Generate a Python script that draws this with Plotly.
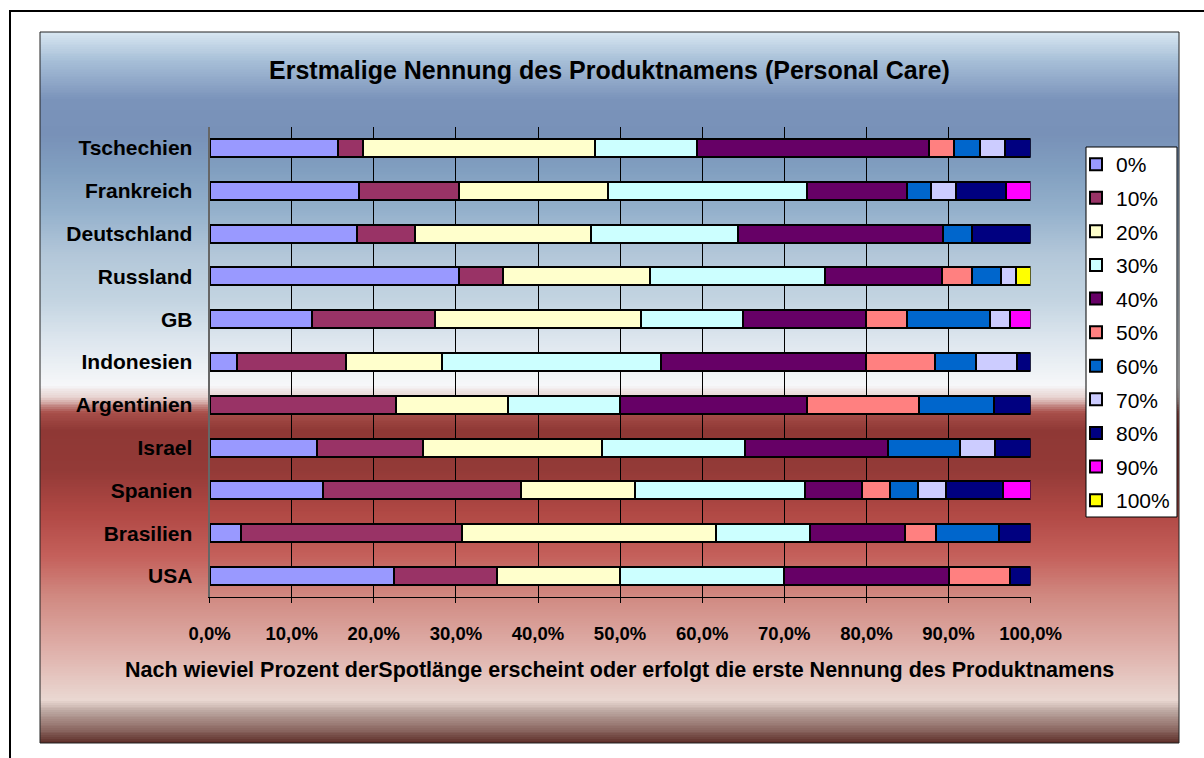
import numpy as np
import plotly.graph_objects as go

# rows, bottom to top as drawn
countries = ["USA", "Brasilien", "Spanien", "Israel", "Argentinien", "Indonesien",
             "GB", "Russland", "Deutschland", "Frankreich", "Tschechien"]

series_names = ["0%", "10%", "20%", "30%", "40%", "50%", "60%", "70%", "80%", "90%", "100%"]

# share of spots (%) per country, same order as countries
s0 = [22.5, 3.8, 13.8, 13.0, 0, 3.3, 12.5, 30.4, 17.9, 18.2, 15.6]
s10 = [12.5, 26.9, 24.1, 13.0, 22.7, 13.3, 15.0, 5.4, 7.1, 12.1, 3.1]
s20 = [15.0, 30.8, 13.8, 21.7, 13.6, 11.7, 25.0, 17.9, 21.4, 18.2, 28.1]
s30 = [20.0, 11.5, 20.7, 17.4, 13.6, 26.7, 12.5, 21.4, 17.9, 24.2, 12.5]
s40 = [20.0, 11.5, 6.9, 17.4, 22.7, 25.0, 15.0, 14.3, 25.0, 12.1, 28.1]
s50 = [7.5, 3.8, 3.4, 0, 13.6, 8.3, 5.0, 3.6, 0, 0, 3.1]
s60 = [0, 7.7, 3.4, 8.7, 9.1, 5.0, 10.0, 3.6, 3.6, 3.0, 3.1]
s70 = [0, 0, 3.4, 4.3, 0, 5.0, 2.5, 1.8, 0, 3.0, 3.1]
s80 = [2.5, 3.8, 6.9, 4.3, 4.5, 1.7, 0, 0, 7.1, 6.1, 3.1]
s90 = [0, 0, 3.4, 0, 0, 0, 2.5, 0, 0, 3.0, 0]
s100 = [0, 0, 0, 0, 0, 0, 0, 1.8, 0, 0, 0]

tick_vals = [0, 10, 20, 30, 40, 50, 60, 70, 80, 90, 100]
tick_text = ["0,0%", "10,0%", "20,0%", "30,0%", "40,0%", "50,0%",
             "60,0%", "70,0%", "80,0%", "90,0%", "100,0%"]

colors = ["#9999FF", "#993366", "#FFFFCC", "#CCFFFF", "#660066", "#FF8080",
          "#0066CC", "#CCCCFF", "#000080", "#FF00FF", "#FFFF00"]

W, H = 1204, 758
FONT = "Arial, Liberation Sans, sans-serif"

# background gradient of the chart panel (pixel row -> colour)
grad = [(32, "#d9e7f2"), (60, "#a8c0d8"), (100, "#7a93ba"), (135, "#7891b8"),
        (170, "#819fc0"), (212, "#95b1cc"), (255, "#b3c7d9"), (300, "#c3d4e1"),
        (340, "#dde6ee"), (385, "#f6f7f9"), (398, "#e6d0cd"), (412, "#a9504b"),
        (430, "#8f3835"), (470, "#933a37"), (512, "#b04844"), (555, "#c45f5a"),
        (595, "#d08880"), (650, "#dfb0aa"), (700, "#ead8d2"), (712, "#b9a39d"),
        (730, "#8a6660"), (743, "#5a2a24")]
top, bot = 32, 743
cscale = [[(p - top) / (bot - top), c] for p, c in grad]
rows = np.linspace(top, bot, 400)

fig = go.Figure()

fig.add_trace(go.Heatmap(
    x=[0.5], y=rows, z=[[r] for r in rows], colorscale=cscale,
    zmin=top, zmax=bot, showscale=False, hoverinfo="skip",
    xaxis="x", yaxis="y"))

series = [s0, s10, s20, s30, s40, s50, s60, s70, s80, s90, s100]
for name, vals, col in zip(series_names, series, colors):
    fig.add_trace(go.Bar(
        y=countries, x=[v if v else None for v in vals], name=name,
        orientation="h", xaxis="x2", yaxis="y2",
        marker=dict(color=col, line=dict(color="black", width=2)),
        legendgroup=name))

px0, px1 = 209.6, 1030.6
py0, py1 = 126.6, 597.4

fig.update_layout(
    width=W, height=H,
    autosize=False,
    margin=dict(l=0, r=0, t=0, b=0, pad=0, autoexpand=False),
    paper_bgcolor="white",
    plot_bgcolor="rgba(0,0,0,0)",
    barmode="stack",
    barnorm="percent",
    bargap=0.58,
    font=dict(family=FONT, color="black"),
    showlegend=True,
    xaxis=dict(domain=[40 / W, 1179 / W], range=[0, 1], visible=False,
               fixedrange=True, automargin=False),
    yaxis=dict(domain=[1 - bot / H, 1 - top / H], range=[bot, top], visible=False,
               fixedrange=True, automargin=False),
    xaxis2=dict(domain=[px0 / W, px1 / W], anchor="y2", range=[0, 100],
                tickvals=tick_vals, ticktext=["<b>" + t + "</b>" for t in tick_text],
                tickfont=dict(size=18.5, family=FONT), ticklabelstandoff=14,
                showgrid=True, gridcolor="black", gridwidth=1,
                showline=True, linecolor="black", linewidth=1,
                ticks="outside", ticklen=5, tickcolor="black", zeroline=False,
                automargin=False),
    yaxis2=dict(domain=[1 - py1 / H, 1 - py0 / H], anchor="x2",
                categoryorder="array", categoryarray=countries,
                tickvals=countries, ticktext=["<b>" + c + "</b>" for c in countries],
                tickfont=dict(size=21, family=FONT), ticklabelstandoff=11,
                showline=True, linecolor="#666666", linewidth=2, showgrid=False,
                automargin=False),
    legend=dict(x=1076 / W, y=1 - 144 / H, xanchor="left", yanchor="top",
                bgcolor="rgba(0,0,0,0)", borderwidth=0,
                font=dict(size=21, family=FONT), traceorder="grouped",
                tracegroupgap=3.3, itemwidth=30),
    shapes=[
        dict(type="rect", xref="paper", yref="paper", x0=10 / W, x1=1.2,
             y0=-0.2, y1=1 - 11 / H, line=dict(color="black", width=2)),
        dict(type="rect", xref="paper", yref="paper", x0=40 / W, x1=1179 / W,
             y0=1 - bot / H, y1=1 - top / H, line=dict(color="#222222", width=1)),
        dict(type="rect", xref="paper", yref="paper", x0=1086 / W, x1=1177 / W,
             y0=1 - 517 / H, y1=1 - 147 / H, fillcolor="white",
             line=dict(color="black", width=1)),
    ],
    annotations=[
        dict(text="<b>Erstmalige Nennung des Produktnamens (Personal Care)</b>",
             x=609.5 / W, y=1 - 70 / H, xref="paper", yref="paper",
             xanchor="center", yanchor="middle",
             showarrow=False, font=dict(size=25, family=FONT)),
        dict(text="<b>Nach wieviel Prozent derSpotlänge erscheint oder erfolgt die erste Nennung des Produktnamens</b>",
             x=619.5 / W, y=1 - 670 / H, xref="paper", yref="paper",
             xanchor="center", yanchor="middle",
             showarrow=False, font=dict(size=21.5, family=FONT)),
    ],
)

fig.write_html("out.html", config={"displayModeBar": False},
               post_script="document.body.style.margin='0';"
                           "document.body.style.overflow='hidden';")
